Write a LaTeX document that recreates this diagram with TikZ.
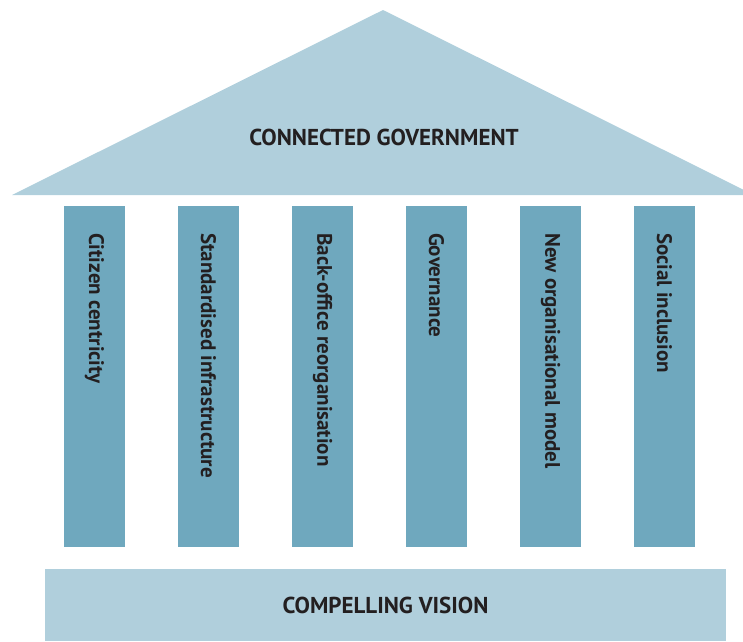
\documentclass[tikz,border=0pt]{standalone}
\usepackage{fontspec}
\setmainfont{PT Sans}
\usetikzlibrary{positioning}
\definecolor{roofBlue}{HTML}{B0CFDC}
\definecolor{pillarBlue}{HTML}{6FA8BE}
\definecolor{inkGray}{HTML}{231F20}
\tikzstyle{pillar} = [rectangle, fill=pillarBlue, minimum width=61pt, minimum height=341pt, inner sep=0pt, outer sep=0pt]
\tikzstyle{pillarText} = [rotate=-90, anchor=west, inner sep=0pt, text=inkGray, font=\fontsize{21}{24}\selectfont\bfseries]
\tikzstyle{bigText} = [text=inkGray, font=\fontsize{23}{27}\selectfont\bfseries]

\begin{document}
\begin{tikzpicture}[x=1pt,y=-1pt]
		\useasboundingbox (0,0) rectangle (743,641);
		\clip (0,0) rectangle (743,641);
		% roof
		\fill [roofBlue] (12,195) -- (383,10) -- (754,195) -- cycle;
		\node [bigText] (roof) at (384,137) {CONNECTED GOVERNMENT};
		% pillars
		\node [pillar] (p1) at (94.5,376.5) {};
		\node [pillar,right=53pt of p1] (p2) {};
		\node [pillar,right=53pt of p2] (p3) {};
		\node [pillar,right=53pt of p3] (p4) {};
		\node [pillar,right=53pt of p4] (p5) {};
		\node [pillar,right=53pt of p5] (p6) {};
		% text runs down from the top of each pillar
		\node [pillarText,xshift=27pt] (t1) at (p1.north) {Citizen centricity};
		\node [pillarText,xshift=27pt] (t2) at (p2.north) {Standardised infrastructure};
		\node [pillarText,xshift=27pt] (t3) at (p3.north) {Back-office reorganisation};
		\node [pillarText,xshift=27pt] (t4) at (p4.north) {Governance};
		\node [pillarText,xshift=27pt] (t5) at (p5.north) {New organisational model};
		\node [pillarText,xshift=27pt] (t6) at (p6.north) {Social inclusion};
		% base
		\node [rectangle, fill=roofBlue, minimum width=681pt, minimum height=72pt, inner sep=0pt] (base) at (385.5,605) {};
		\node [bigText] (vision) at (base.center) {COMPELLING VISION};
\end{tikzpicture}
\end{document}
